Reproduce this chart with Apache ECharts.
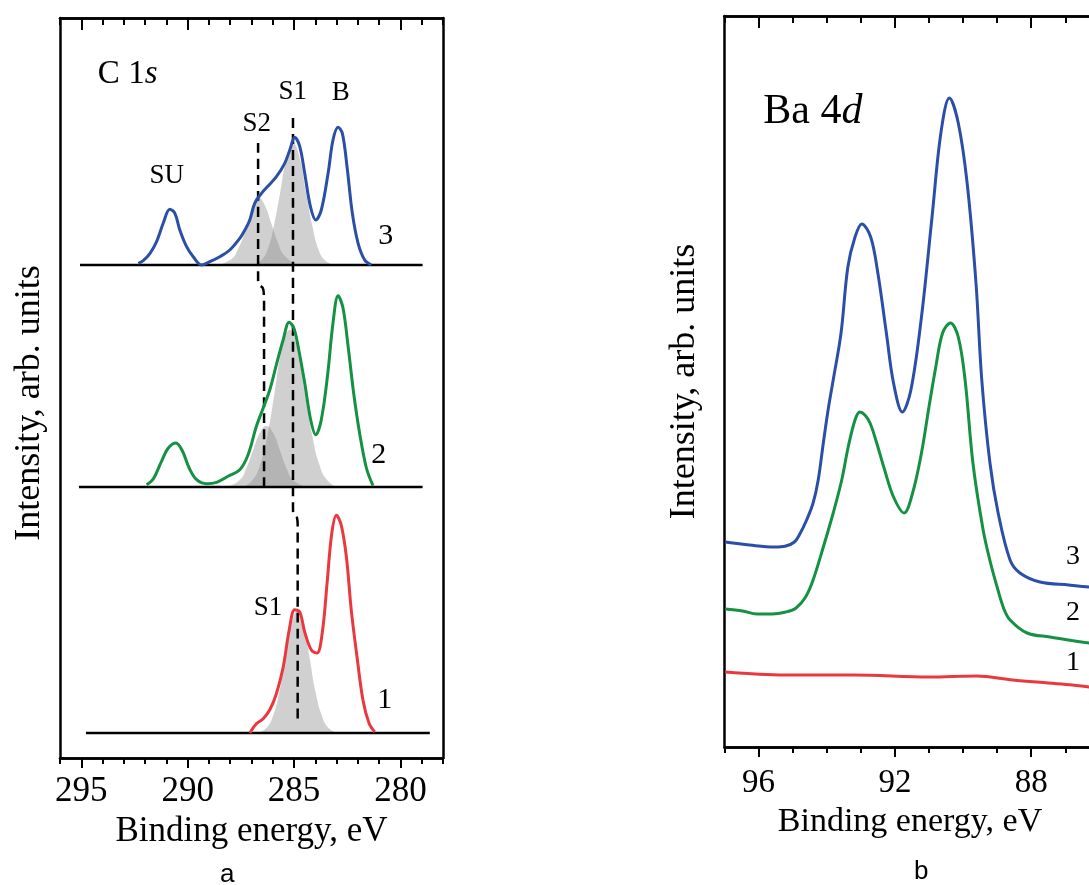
<!DOCTYPE html>
<html>
<head>
<meta charset="utf-8">
<title>C 1s / Ba 4d</title>
<script src="https://cdn.jsdelivr.net/npm/echarts@6/dist/echarts.min.js"></script>
<style>html,body{margin:0;background:#fff}#main{width:1089px;height:885px}</style>
</head>
<body>
<div id="main"></div>
<script>
// ---- panel a, C 1s: [binding energy eV, height above the curve's own baseline]
const c1sOffsets = [25, 271, 493];          // baselines of curves 1, 2, 3
const c1sBaseSpans = [[294.78, 278.62], [295.11, 278.96], [295.06, 278.96]];

const c1sCurve1 = [[287.08,0],[286.77,9.3],[286.45,14.3],[286.14,23.3],[285.83,39.3],[285.51,66],[285.23,102.7],
  [284.97,123.3],[284.73,121],[284.50,101],[284.18,82.7],[283.92,80],[283.67,101],[283.45,149.3],[283.23,199.3],
  [283.01,217.7],[282.78,207.7],[282.54,176],[282.31,122.7],[282.04,76],[281.76,32.7],[281.48,10],[281.21,1]];

const c1sCurve2 = [[291.93,2.3],[291.62,8],[291.23,25.7],[290.91,39],[290.55,44],[290.24,35.7],[289.93,19],
  [289.58,7.3],[289.11,3.3],[288.64,4.7],[288.10,10.7],[287.55,17.3],[287.16,32.3],[286.77,60.7],[286.45,79],
  [286.14,97.3],[285.83,122.3],[285.51,147.3],[285.23,164.7],[285.01,159],[284.78,137.3],[284.50,104],[284.22,67.3],
  [283.98,52.3],[283.72,67.3],[283.43,110.7],[283.17,164],[282.93,191.3],[282.70,179],[282.46,140.7],[282.20,94],
  [281.92,54],[281.60,19],[281.29,1.3]];

const c1sCurve3 = [[292.32,1.7],[292.09,4.3],[291.77,11.7],[291.46,23.3],[291.15,41.7],[290.84,55.7],[290.60,51.7],
  [290.37,35],[290.05,18.3],[289.74,8.3],[289.35,0],[288.96,3.3],[288.49,8.3],[288.02,15],[287.55,26.7],[287.31,35],
  [287.08,45],[286.85,61.7],[286.53,71.7],[286.22,79],[285.83,88.3],[285.44,101.7],[285.20,115],[284.97,127.7],
  [284.73,118.3],[284.50,91.7],[284.23,58.3],[283.98,45],[283.72,55],[283.40,91.7],[283.17,125],[282.93,137.7],
  [282.73,131.7],[282.51,98.3],[282.26,51.7],[281.99,21.7],[281.68,5],[281.37,0]];

// fitted components (shaded)
const c1sFit1S1 = [[286.69,0],[286.28,5.6],[286.00,16.5],[285.70,40],[285.42,74],[285.13,108],[284.84,122],
  [284.55,108],[284.26,74],[283.98,40],[283.68,16.5],[283.40,5.6],[282.99,0]];
const c1sFit2S2 = [[288.18,0],[287.55,7],[287.24,19],[286.92,37],[286.61,54],[286.30,61],[285.98,54],[285.67,37],
  [285.36,19],[285.05,7],[284.42,0]];
const c1sFit2S1 = [[287.39,0],[286.95,7],[286.61,21],[286.25,52],[285.91,95],[285.55,140],[285.20,157],[284.86,140],
  [284.50,95],[284.15,52],[283.79,21],[283.45,7],[283.01,0]];
const c1sFit3S2 = [[288.57,0],[287.94,6],[287.63,16],[287.31,33],[287.00,55],[286.69,68],[286.38,60],[286.06,41],
  [285.75,22],[285.44,9],[284.81,0]];
const c1sFit3S1 = [[286.92,0],[286.53,5],[286.23,16],[285.94,40],[285.64,74],[285.34,108],[285.05,122],[284.75,108],
  [284.45,74],[284.15,40],[283.86,16],[283.56,5],[283.17,0]];

// dashed peak-position guides (absolute)
const c1sGuideS2 = [[286.69,615],[286.69,480],[286.67,474],[286.47,470],[286.42,463],[286.41,455],[286.41,271]];
const c1sGuideS1 = [[285.05,640],[285.05,250],[285.03,244],[284.86,240],[284.83,233],[284.83,38]];

const c1sMajorTicks = [295, 290, 285, 280];
const c1sMinorTicks = [296,295,294,293,292,291,290,289,288,287,286,285,284,283,282,281,280,279,278];

const c1sNotes = [
  {name: '{n|C 1}{i|s}', value: [294.22, 684], align: 'left', size: 33},
  {name: 'S1', value: [285.06, 666]},
  {name: 'B', value: [282.81, 665]},
  {name: 'S2', value: [286.75, 634]},
  {name: 'SU', value: [290.98, 582]},
  {name: '3', value: [280.69, 522], size: 30},
  {name: '2', value: [281.02, 303], size: 30},
  {name: '1', value: [280.74, 58], size: 30},
  {name: 'S1', value: [286.23, 150]}
];

// ---- panel b, Ba 4d: [binding energy eV, intensity]
const ba4dCurve1 = [[96.98,75],[95.23,72],[93.2,72],[91.0,70],[89.6,71],[88.54,67],[87.5,64],[86.79,62],[86.3,60],[85.4,57]];
const ba4dCurve2 = [[96.98,138],[96.47,136],[96.05,133],[95.6,133],[95.2,135],[94.9,139],[94.62,150],[94.40,167],
  [94.10,200],[93.81,234],[93.56,267],[93.37,300],[93.17,327],[93.03,335],[92.88,332],[92.73,324],[92.56,307],
  [92.3,277],[92.04,250],[91.73,234],[91.48,254],[91.22,294],[91.0,340],[90.8,380],[90.6,414],[90.37,424],
  [90.14,410],[89.94,367],[89.71,284],[89.41,217],[89.2,185],[89.0,160],[88.8,138],[88.62,127],[88.12,114],
  [87.45,110],[86.3,104],[85.5,102]];
const ba4dCurve3 = [[96.98,205],[96.26,202],[95.54,200],[95.2,201],[94.95,205],[94.79,213],[94.59,227],[94.40,244],
  [94.25,267],[94.10,304],[93.96,337],[93.81,367],[93.58,414],[93.38,480],[93.17,510],[92.97,523],[92.71,510],
  [92.5,474],[92.25,414],[92.04,364],[91.78,335],[91.53,357],[91.22,430],[90.91,530],[90.65,614],[90.4,649],
  [90.14,624],[89.88,564],[89.62,464],[89.45,367],[89.21,284],[88.97,234],[88.62,187],[88.33,174],[87.74,165],
  [86.9,162],[86.3,160],[85.5,158]];

const ba4dMajorTicks = [96, 92, 88, 84];
const ba4dMinorTicks = [97,96,95,94,93,92,91,90,89,88,87,86,85,84];

const ba4dNotes = [
  {name: '{n|Ba 4}{i|d}', value: [95.86, 635], align: 'left', size: 42},
  {name: '3', value: [86.77, 190]},
  {name: '2', value: [86.77, 134]},
  {name: '1', value: [86.77, 84]}
];

const BLUE = '#2b4fa6', GREEN = '#149142', RED = '#e9383f';
const serif = 'Liberation Serif';
const black = {color: '#000', width: 2.5};

function shift(points, dy) {
  return points.map(p => [p[0], p[1] + dy]);
}

function xAxes(gridIndex, min, max, major, minor, o) {
  const base = {type: 'value', gridIndex, min, max, inverse: true, splitLine: {show: false},
    axisLine: {lineStyle: black}};
  const tickStyle = {color: '#000', width: 2};
  return [
    Object.assign({}, base, {position: 'bottom', name: 'Binding energy, eV', nameLocation: 'middle',
      nameGap: o.nameGap, nameTextStyle: {fontFamily: serif, fontSize: o.nameSize, color: '#000', padding: o.namePad},
      axisTick: {customValues: major, length: 10, lineStyle: tickStyle},
      axisLabel: {customValues: major, margin: o.margin, fontFamily: serif, fontSize: o.labelSize, color: '#000'}}),
    Object.assign({}, base, {position: 'bottom', axisTick: {customValues: minor, length: 6, lineStyle: tickStyle},
      axisLabel: {show: false}}),
    Object.assign({}, base, {position: 'top', axisTick: {inside: true, customValues: major, length: 12, lineStyle: tickStyle},
      axisLabel: {show: false}}),
    Object.assign({}, base, {position: 'top', axisTick: {inside: true, customValues: minor, length: 7, lineStyle: tickStyle},
      axisLabel: {show: false}})
  ];
}

function yAxis(gridIndex, max, position, name, gap, pad) {
  return {type: 'value', gridIndex, min: 0, max, position, splitLine: {show: false},
    axisLine: {show: true, onZero: false, lineStyle: black}, axisTick: {show: false}, axisLabel: {show: false},
    name, nameLocation: 'middle', nameGap: gap,
    nameTextStyle: {fontFamily: serif, fontSize: 36, color: '#000', padding: pad}};
}

function curve(data, xi, yi, color) {
  return {type: 'line', xAxisIndex: xi, yAxisIndex: yi, data, smooth: 0.35, symbol: 'none',
    lineStyle: {color, width: 3}, z: 5, silent: true};
}

function fit(data, offset) {
  return {type: 'line', xAxisIndex: 0, yAxisIndex: 0, data: shift(data, offset), smooth: 0.5, symbol: 'none',
    lineStyle: {width: 0}, areaStyle: {color: 'rgba(140,140,140,0.58)', origin: offset}, z: 2, silent: true};
}

function guide(data) {
  return {type: 'line', xAxisIndex: 0, yAxisIndex: 0, data, smooth: 0.4, symbol: 'none', z: 3, silent: true,
    lineStyle: {color: '#000', width: 2.5, type: [10, 6]}};
}

function notes(list, xi, yi, size) {
  const plain = {color: '#000', fontFamily: serif, textBorderWidth: 0, textBorderColor: 'transparent',
    textShadowBlur: 0, opacity: 1};
  return {type: 'scatter', xAxisIndex: xi, yAxisIndex: yi, symbolSize: 0, silent: true, z: 6,
    itemStyle: {color: '#000'},
    data: list.map(d => {
      const s = d.size || size;
      return {name: d.name, value: d.value,
        label: Object.assign({align: d.align || 'center', fontSize: s}, plain, {
          rich: {n: Object.assign({fontSize: s}, plain),
                 i: Object.assign({fontSize: s, fontStyle: 'italic'}, plain)}})};
    }),
    label: Object.assign({show: true, position: 'inside', formatter: p => p.name}, plain)};
}

const series = [];
series.push(fit(c1sFit1S1, c1sOffsets[0]));
series.push(fit(c1sFit2S2, c1sOffsets[1]), fit(c1sFit2S1, c1sOffsets[1]));
series.push(fit(c1sFit3S2, c1sOffsets[2]), fit(c1sFit3S1, c1sOffsets[2]));
c1sBaseSpans.forEach((s, i) => series.push({type: 'line', xAxisIndex: 0, yAxisIndex: 0, symbol: 'none', z: 4,
  silent: true, lineStyle: {color: '#000', width: 2.5}, data: [[s[0], c1sOffsets[i]], [s[1], c1sOffsets[i]]]}));
series.push(guide(c1sGuideS2), guide(c1sGuideS1));
series.push(curve(shift(c1sCurve1, c1sOffsets[0]), 0, 0, RED));
series.push(curve(shift(c1sCurve2, c1sOffsets[1]), 0, 0, GREEN));
series.push(curve(shift(c1sCurve3, c1sOffsets[2]), 0, 0, BLUE));
series.push(curve(ba4dCurve1, 4, 2, RED), curve(ba4dCurve2, 4, 2, GREEN), curve(ba4dCurve3, 4, 2, BLUE));
series.push(notes(c1sNotes, 0, 0, 27));
series.push(notes(ba4dNotes, 4, 2, 28));

const option = {
  animation: false,
  backgroundColor: '#fff',
  grid: [
    {left: 60, top: 18, width: 383, height: 740, outerBoundsMode: 'none'},
    {left: 724.5, top: 16, width: 443, height: 731, outerBoundsMode: 'none'}
  ],
  xAxis: [].concat(
    xAxes(0, 278, 296, c1sMajorTicks, c1sMinorTicks, {nameGap: 52, nameSize: 35, labelSize: 35, margin: 16, namePad: 0}),
    xAxes(1, 84, 97, ba4dMajorTicks, ba4dMinorTicks, {nameGap: 58, nameSize: 34, labelSize: 33, margin: 20, namePad: [0, 72, 0, 0]})
  ),
  yAxis: [
    yAxis(0, 740, 'left', 'Intensity, arb. units', 12, [0, 30, 0, 0]),
    Object.assign(yAxis(0, 740, 'right', '', 0, 0), {name: ''}),
    yAxis(1, 731, 'left', 'Intensity, arb. units', 22, 0)
  ],
  graphic: [
    {type: 'text', left: 220, top: 862, style: {text: 'a', font: '26px Liberation Sans', fill: '#000'}},
    {type: 'text', left: 914, top: 859, style: {text: 'b', font: '26px Liberation Sans', fill: '#000'}}
  ],
  series
};

const chart = echarts.init(document.getElementById('main'));
chart.setOption(option);
</script>
</body>
</html>
